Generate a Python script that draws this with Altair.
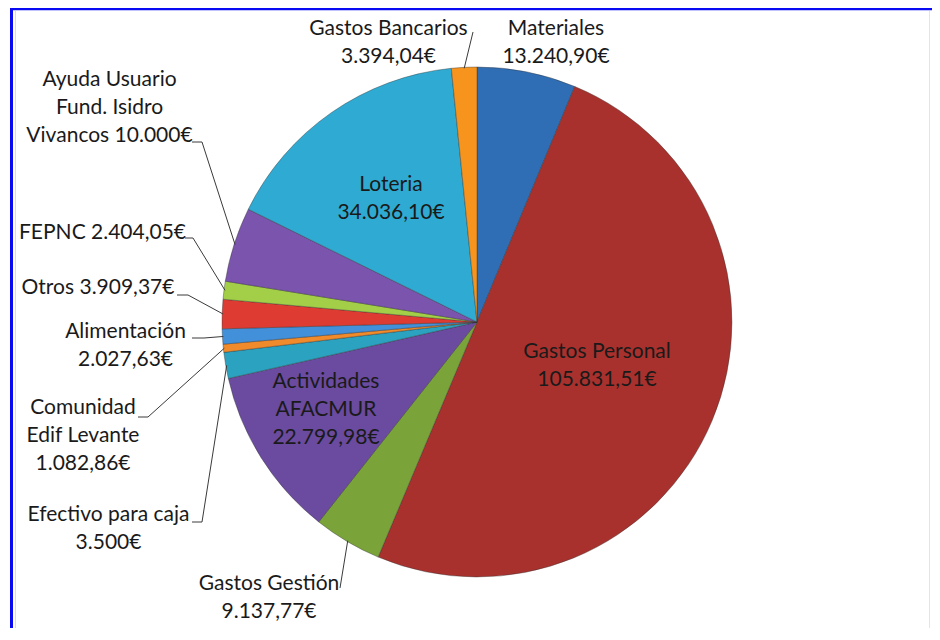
import math
import altair as alt
import pandas as pd

# ---------------- data ----------------
categories = [
    "Materiales", "Gastos Personal", "Gastos Gestión", "Actividades AFACMUR",
    "Efectivo para caja", "Comunidad Edif Levante", "Alimentación", "Otros",
    "FEPNC", "Ayuda Usuario Fund. Isidro Vivancos", "Loteria", "Gastos Bancarios",
]
values = [13240.90, 105831.51, 9137.77, 22799.98, 3500.00, 1082.86,
          2027.63, 3909.37, 2404.05, 10000.00, 34036.10, 3394.04]
label_texts = [
    "Materiales\n13.240,90€",
    "Gastos Personal\n105.831,51€",
    "Gastos Gestión\n9.137,77€",
    "Actividades\nAFACMUR\n22.799,98€",
    "Efectivo para caja\n3.500€",
    "Comunidad\nEdif Levante\n1.082,86€",
    "Alimentación\n2.027,63€",
    "Otros 3.909,37€",
    "FEPNC 2.404,05€",
    "Ayuda Usuario\nFund. Isidro\nVivancos 10.000€",
    "Loteria\n34.036,10€",
    "Gastos Bancarios\n3.394,04€",
]

# ---------------- styling / layout ----------------
colors = ["#2f6db5", "#a9312d", "#7aa33a", "#6a4b9f", "#2aa2c0", "#f08a2a",
          "#4390da", "#de3b33", "#a2cf47", "#7a54ad", "#2fabd3", "#f7941d"]

W, H = 924, 620
CX, CY, R = 469, 314, 255
FONT_SIZE, LINE_H = 21, 28

# label block centres (chart px)
LABEL_POS = {
    "Materiales": (548, 34.5),
    "Gastos Personal": (589, 357.5),
    "Gastos Gestión": (261, 589.5),
    "Actividades AFACMUR": (318, 402),
    "Efectivo para caja": (100.5, 520.5),
    "Comunidad Edif Levante": (75, 428),
    "Alimentación": (117.5, 337.5),
    "Otros": (90, 280),
    "FEPNC": (94.5, 225),
    "Ayuda Usuario Fund. Isidro Vivancos": (101.5, 99.5),
    "Loteria": (383, 191),
    "Gastos Bancarios": (380.5, 34.5),
}
# leader polylines starting at the label; last point joins the slice edge
LEADERS = {
    "Gastos Gestión": [(332, 580)],
    "Efectivo para caja": [(184, 514), (194, 514)],
    "Comunidad Edif Levante": [(130, 409), (140, 409)],
    "Alimentación": [(184, 330), (196, 330)],
    "Otros": [(169, 287), (180, 287)],
    "FEPNC": [(177, 230), (185, 230)],
    "Ayuda Usuario Fund. Isidro Vivancos": [(184, 134), (194, 134)],
    "Gastos Bancarios": [(465, 24)],
}

df = pd.DataFrame({"cat": categories, "value": values, "idx": range(len(values))})

total = sum(values)
cum = 0.0
edge = {}
for c, v in zip(categories, values):
    mid = (cum + v / 2) / total * 2 * math.pi
    cum += v
    edge[c] = (CX + (R - 1) * math.sin(mid), CY - (R - 1) * math.cos(mid))

seg_rows = []
for c, pts in LEADERS.items():
    full = list(pts) + [edge[c]]
    for (x0, y0), (x1, y1) in zip(full[:-1], full[1:]):
        seg_rows.append({"x": x0, "y": y0, "x2": x1, "y2": y1})
seg_df = pd.DataFrame(seg_rows)

# first line position so that the block is centred on LABEL_POS
lab_df = pd.DataFrame({
    "cat": categories,
    "text": label_texts,
    "x": [LABEL_POS[c][0] for c in categories],
    "y": [LABEL_POS[c][1] - (t.count("\n")) * LINE_H / 2
          for c, t in zip(categories, label_texts)],
})

xs = alt.Scale(domain=[0, W], nice=False, zero=False)
ys = alt.Scale(domain=[0, H], nice=False, zero=False, reverse=True)

one = pd.DataFrame({"a": [0]})
frame_left = alt.Chart(one).mark_rule(color="#0a0af2", strokeWidth=3).encode(
    x=alt.value(3.5), y=alt.value(0), y2=alt.value(H))
frame_top = alt.Chart(one).mark_rule(color="#0a0af2", strokeWidth=2.5).encode(
    x=alt.value(2), x2=alt.value(W), y=alt.value(1))
inner_left = alt.Chart(one).mark_rule(color="#dcdcdc", strokeWidth=1).encode(
    x=alt.value(7.5), y=alt.value(3), y2=alt.value(H))
inner_right = alt.Chart(one).mark_rule(color="#e4e4e4", strokeWidth=1).encode(
    x=alt.value(W - 2.5), y=alt.value(3), y2=alt.value(H))

pie = alt.Chart(df).mark_arc(
    outerRadius=R, stroke="#333333", strokeWidth=0.8, strokeOpacity=0.5
).encode(
    theta=alt.Theta("value:Q", stack=True),
    color=alt.Color("cat:N", scale=alt.Scale(domain=categories, range=colors), legend=None),
    order=alt.Order("idx:Q"),
    x=alt.value(CX),
    y=alt.value(CY),
)

leaders = alt.Chart(seg_df).mark_rule(color="#3a3a3a", strokeWidth=1).encode(
    x=alt.X("x:Q", scale=xs, axis=None),
    y=alt.Y("y:Q", scale=ys, axis=None),
    x2="x2:Q",
    y2="y2:Q",
)

labels = alt.Chart(lab_df).mark_text(
    font="Lato", fontSize=FONT_SIZE, lineBreak="\n", lineHeight=LINE_H,
    align="center", baseline="middle", color="#1a1a1a",
).encode(
    x=alt.X("x:Q", scale=xs, axis=None),
    y=alt.Y("y:Q", scale=ys, axis=None),
    text="text:N",
)

chart = alt.layer(frame_left, frame_top, inner_left, inner_right, pie, leaders, labels).properties(
    width=W, height=H, padding=0,
    autosize=alt.AutoSizeParams(type="none"),
    background="white",
).configure_view(stroke=None)

chart.save("out.html", embed_options={"renderer": "svg", "actions": False})
